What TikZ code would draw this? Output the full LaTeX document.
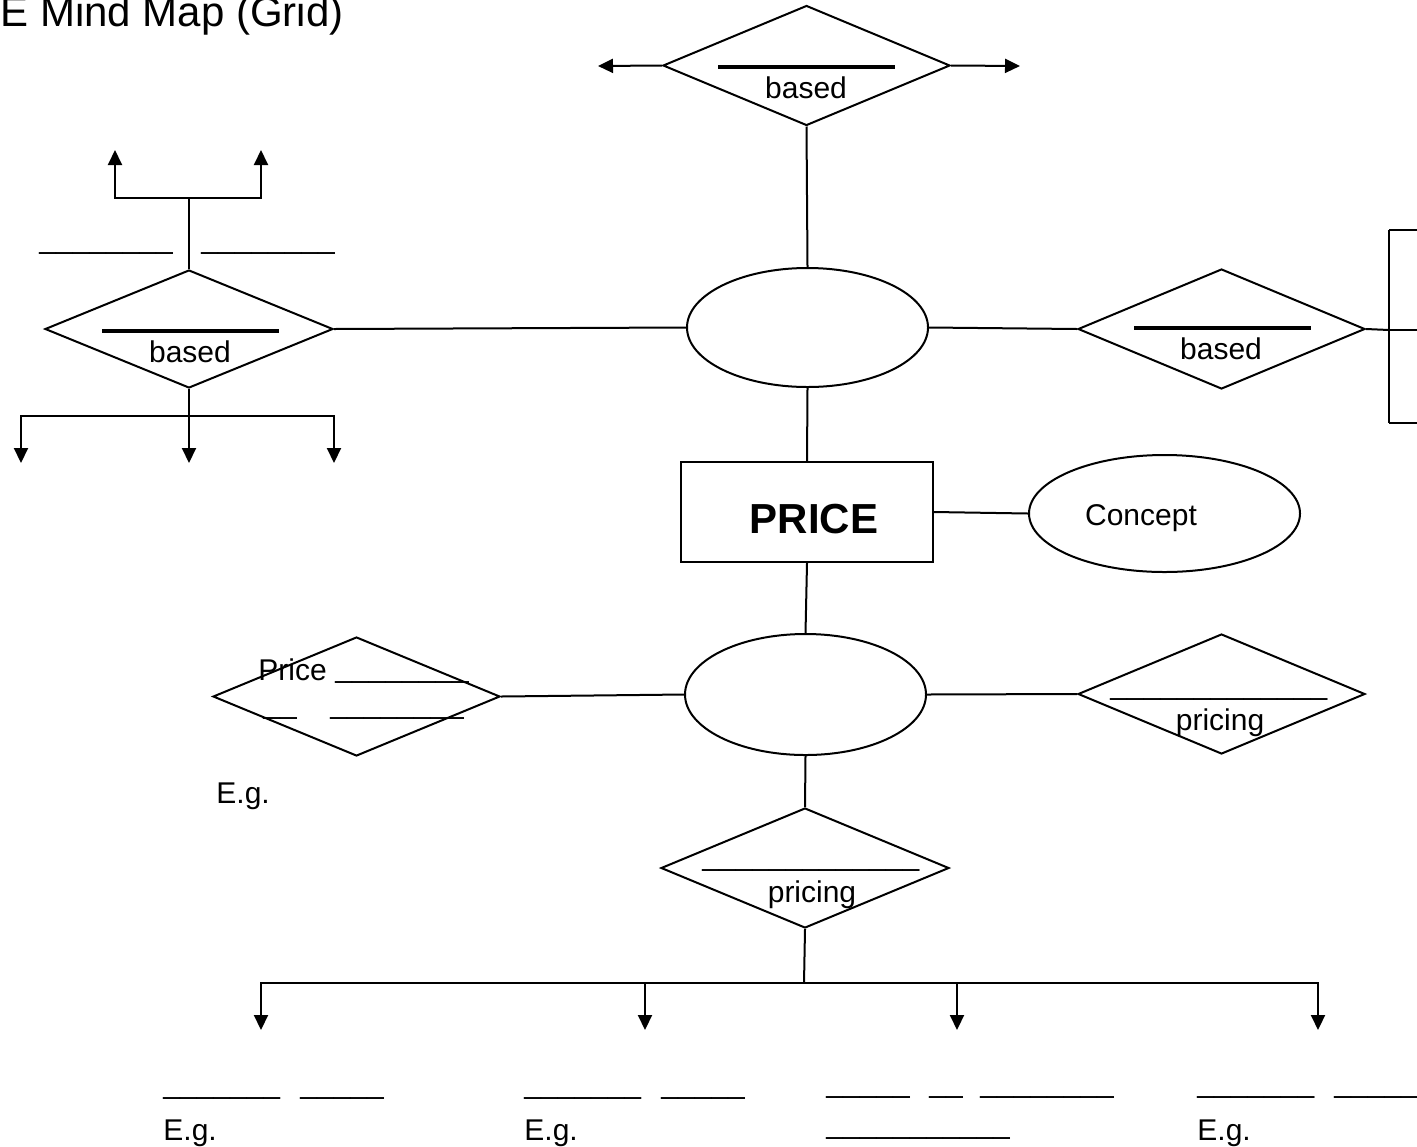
\documentclass[tikz,border=0pt]{standalone}
\usepackage{fontspec}
\setmainfont{Liberation Sans}
\usetikzlibrary{shapes.geometric, arrows.meta}

% a run of blanks to fill in
\newcommand{\fillin}[1]{\foreach \k in {1,...,#1}{\_}}

\tikzset{
  link/.style={line width=1pt},
  arr/.style={line width=1pt, -{Triangle[length=7.5pt,width=7pt]}},
  bar/.style={line width=2pt},
  choice/.style={diamond, draw, line width=1pt, inner sep=0pt,
    minimum width=143.5pt, minimum height=60pt},
  bubble/.style={ellipse, draw, line width=1pt, inner sep=0pt},
  word/.style={font=\fontsize{15}{18}\selectfont, inner sep=0pt, anchor=base},
  blank/.style={font=\fontsize{15}{18}\selectfont, inner sep=0pt, anchor=base west},
}

\begin{document}
\begin{tikzpicture}[x=0.5pt, y=-0.5pt]

    \useasboundingbox (0,0) rectangle (1417,1146);
    \fill[white] (0,0) rectangle (1417,1146);

    % heading (runs off the top of the sheet)
    \node[anchor=base west, inner sep=0pt, font=\fontsize{21}{25}\selectfont] (title) at (0,26) {E Mind Map (Grid)};

    % centre
    \node[draw, line width=1pt, minimum width=126pt, minimum height=50pt, inner sep=0pt] (price) at (807,512) {};
    \node[anchor=base, inner sep=0pt, font=\fontsize{21}{25}\selectfont\bfseries] (pricetxt) at (814,533) {PRICE};
    \node[bubble, minimum width=135.5pt, minimum height=58.5pt] (concept) at (1164.5,513.5) {};
    \node[word] (concepttxt) at (1141,525) {Concept};
    \draw[link] (price.east) -- (concept.west);

    % upper branch
    \node[bubble, minimum width=120.5pt, minimum height=59.5pt] (otop) at (807.5,327.5) {};
    \draw[link] (otop.south) -- (price.north);

    \node[choice] (dtop) at (806.5,65.5) {};
    \draw[bar] (718,67) -- (895,67);
    \node[word] (dtoptxt) at (806,98) {based};
    \coordinate (dtopA) at (598,66);
    \coordinate (dtopB) at (1020,66);
    \draw[arr] (dtop.west) -- (dtopA);
    \draw[arr] (dtop.east) -- (dtopB);
    \draw[link] (dtop.south) -- (otop.north);

    \node[choice, minimum width=144pt, minimum height=59pt] (dleft) at (189,329) {};
    \draw[bar] (102,331) -- (279,331);
    \node[word] (dlefttxt) at (190,362) {based};
    \draw[link] (dleft.east) -- (otop.west);
    \coordinate (lt) at (189,198);
    \coordinate (ltA) at (115,150);
    \coordinate (ltB) at (261,150);
    \draw[link] (dleft.north) -- (lt);
    \draw[arr] (lt) -| (ltA);
    \draw[arr] (lt) -| (ltB);
    \node[blank] (ltblankA) at (39,248) {\fillin{8}};
    \node[blank] (ltblankB) at (201,248) {\fillin{8}};
    \coordinate (lb) at (189,416);
    \coordinate (lbA) at (21,463);
    \coordinate (lbB) at (189,463);
    \coordinate (lbC) at (334,463);
    \draw[link] (dleft.south) -- (lb);
    \draw[arr] (lb) -| (lbA);
    \draw[arr] (lb) -- (lbB);
    \draw[arr] (lb) -| (lbC);

    \node[choice] (dright) at (1221.5,329) {};
    \draw[bar] (1134,328) -- (1311,328);
    \node[word] (drighttxt) at (1221,359) {based};
    \draw[link] (otop.east) -- (dright.west);
    \coordinate (rb) at (1389,330);
    \coordinate (rbA) at (1389,230);
    \coordinate (rbB) at (1389,423);
    \draw[link] (dright.east) -- (rb);
    \draw[link] (rbA) -- (rbB);
    \draw[arr] (rb) -- (1432,330);
    \draw[arr] (rbA) -- (1455,230);
    \draw[arr] (rbB) -- (1455,423);

    % lower branch
    \node[bubble, minimum width=120.5pt, minimum height=60.5pt] (obot) at (805.5,694.5) {};
    \draw[link] (price.south) -- (obot.north);

    \node[choice, minimum height=59.5pt] (dlow) at (356.5,696.5) {};
    \node[blank] (dlowtxt) at (258,680) {Price};
    \node[blank] (dlowA) at (335,677) {\fillin{8}};
    \node[blank] (dlowB) at (263,713) {\fillin{2}};
    \node[blank] (dlowC) at (330,713) {\fillin{8}};
    \node[blank] (eg) at (216,803) {E.g.};
    \draw[link] (obot.west) -- (dlow.east);

    \node[choice] (dlowr) at (1221.5,694) {};
    \node[blank] (dlowrA) at (1110,694) {\fillin{13}};
    \node[word] (dlowrtxt) at (1220,730) {pricing};
    \draw[link] (obot.east) -- (dlowr.west);

    \node[choice, minimum width=144pt] (dbot) at (805,868) {};
    \node[blank] (dbotA) at (702,865) {\fillin{13}};
    \node[word] (dbottxt) at (812,902) {pricing};
    \draw[link] (obot.south) -- (dbot.north);

    % bottom fan
    \coordinate (bb) at (804,983);
    \draw[link] (dbot.south) -- (bb);
    \foreach \x/\n in {261/1, 645/2, 957/3, 1318/4} {
        \coordinate (bb\n) at (\x,1030);
        \draw[arr] (bb) -| (bb\n);
    }

    \node[blank] (b1A) at (163,1093) {\fillin{7}};
    \node[blank] (b1B) at (300,1093) {\fillin{5}};
    \node[blank] (b1eg) at (163,1140) {E.g.};
    \node[blank] (b2A) at (524,1093) {\fillin{7}};
    \node[blank] (b2B) at (661,1093) {\fillin{5}};
    \node[blank] (b2eg) at (524,1140) {E.g.};
    \node[blank] (b3A) at (826,1092) {\fillin{5}};
    \node[blank] (b3B) at (929,1092) {\fillin{2}};
    \node[blank] (b3C) at (980,1092) {\fillin{8}};
    \node[blank] (b3D) at (826,1133) {\fillin{11}};
    \node[blank] (b4A) at (1197,1092) {\fillin{7}};
    \node[blank] (b4B) at (1334,1092) {\fillin{5}};
    \node[blank] (b4eg) at (1197,1140) {E.g.};

\end{tikzpicture}
\end{document}
